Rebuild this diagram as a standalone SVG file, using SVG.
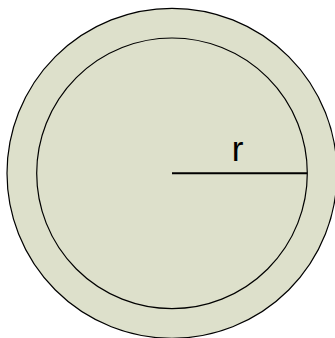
<svg xmlns="http://www.w3.org/2000/svg" width="335" height="338" viewBox="0 0 335 338">
<style>
.c{fill:#dde0cb;stroke:#000;stroke-width:1.2}
.lbl{font-family:"Liberation Sans",Arial,sans-serif;font-size:35px;fill:#000}
</style>
<rect width="335" height="338" fill="#fff"/>
<g id="outer"><circle class="c" cx="172" cy="173.3" r="165"/></g>
<g id="inner"><circle class="c" cx="172" cy="173.3" r="135.3"/></g>
<g id="connectors"><line x1="172" y1="173.3" x2="307" y2="173.3" stroke="#000" stroke-width="2"/></g>
<g id="label"><text class="lbl" x="237.5" y="161" text-anchor="middle">r</text></g>
</svg>
